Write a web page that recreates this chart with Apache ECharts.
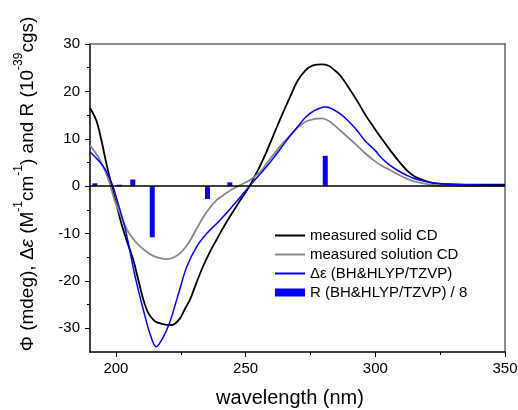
<!DOCTYPE html>
<html><head><meta charset="utf-8">
<script src="https://cdn.jsdelivr.net/npm/echarts@6/dist/echarts.min.js"></script>
<style>html,body{margin:0;padding:0;background:#fff}#c{width:518px;height:410px}</style>
</head><body><div id="c"></div>
<script>
// measured solid CD
const solidWl = [190,192.4,194.4,196.3,198.4,200.1,202.1,204.1,206.7,208.5,210.6,212.5,215,218,221.5,224.7,226.5,228.6,231.1,233.7,236.3,238.5,240.5,242.7,245,247.2,249.5,251.5,253.6,255.5,258,261.3,264,267.1,270,273,276,279.4,282,284,286.4,289.5,292.9,296,299.3,302.5,305.7,309,312.1,315,318.4,322,326,335,350];
const solidCD = [16.5,13.9,9.7,4.8,0,-3.6,-7.9,-11.4,-15.6,-19.5,-24,-26.8,-28.5,-29.1,-29.3,-27.9,-26,-23.9,-20.3,-16.8,-13.8,-11.6,-9.6,-7.5,-5.5,-3.6,-1.7,0,2.2,4.2,7.2,11.5,15,18.8,22.2,24.4,25.5,25.7,25.4,24.6,23.4,21,18.1,15.2,12.5,10,7.6,5.3,3.4,2.1,1.3,0.7,0.4,0.3,0.3];
// measured solution CD
const solutionWl = [190,193.1,195.7,197.6,199.5,202.1,204,205.4,208,210.6,214,217,219.6,222,224.7,228,231.1,233.7,236.3,238.9,241.4,245.3,247.8,251.7,255.6,258.1,263.3,268.4,270.3,274,279.4,283,286.4,292.9,296,299.3,302.5,305.7,309,312.1,315,318.4,322,328,335,350];
const solutionCD = [8.6,6.2,3.4,0.6,-3,-6.5,-8.9,-10.2,-12,-13.3,-14.6,-15.2,-15.4,-15.1,-14.2,-12,-9,-6.5,-4.5,-2.9,-1.9,-0.5,0.2,1.3,3,4.8,8.4,11.4,12.5,13.8,14.3,13.4,11.8,8.6,7,5.5,4.3,3.4,2.4,1.6,1.0,0.6,0.3,0.1,0,0];
// calculated delta epsilon
const calcWl = [190,193.1,195.7,197.6,198.9,200.8,203.4,205.5,207.4,210.6,213.1,215.5,218.3,220.9,223.4,224.7,227.3,231.1,235,240.1,245.3,251.5,255,258.5,263.3,267.1,270.3,273,276.1,280.6,283,286.4,289.5,292.9,296,299.8,302.5,305.7,309,312.1,315,318.5,322,326,335,350];
const calcDe = [7.2,5.5,3.7,1.6,-0.1,-3.6,-8.6,-14,-19.1,-26.2,-31.1,-33.9,-31.8,-28.5,-24,-21.6,-17,-12.8,-10,-7.2,-4,0,2.2,4.4,7.8,10.6,12.7,14.5,15.8,16.7,16.4,15.3,13.8,11.8,9.6,7.6,5.9,4.4,3.2,2.3,1.6,1.1,0.7,0.5,0.3,0.2];
// rotational strengths / 8
const barWl = [191.9,201.4,206.5,214,235.3,243.9,280.7];
const barR = [0.6,0.3,1.4,-10.8,-2.7,0.8,6.4];

const xMajor = [200,250,300,350];
const xMinor = [225,275,325];
const yMajor = [-30,-20,-10,0,10,20,30];
const yMinor = [-25,-15,-5,5,15,25];

const pairs = (a,b)=>a.map((v,i)=>[v,b[i]]);
const FONT = 'Liberation Sans, Arial, sans-serif';

const chart = echarts.init(document.getElementById('c'), null, {renderer:'canvas'});
const lineSeries = (name, wl, v, color, w) => ({
  name, type:'line', xAxisIndex:0, yAxisIndex:0, smooth:0.35,
  symbol:'none', lineStyle:{color, width:w}, itemStyle:{color}, data:pairs(wl, v)
});
chart.setOption({
  animation:false,
  backgroundColor:'#fff',
  textStyle:{fontFamily:FONT},
  grid:{left:90,right:13,top:44,bottom:58,outerBoundsMode:'none',containLabel:false},
  legend:[
    {orient:'vertical', left:275, top:228, padding:0, itemWidth:30, itemHeight:2, itemGap:4, icon:'rect',
     textStyle:{fontSize:15,color:'#000',fontFamily:FONT},
     data:['measured solid CD','measured solution CD','Δε (BH&HLYP/TZVP)']},
    {orient:'vertical', left:275, top:285, padding:0, itemWidth:30, itemHeight:8, icon:'rect',
     textStyle:{fontSize:15,color:'#000',fontFamily:FONT},
     data:['R (BH&HLYP/TZVP) / 8']}
  ],
  xAxis:[
    {type:'value',min:190,max:350,position:'bottom',
     name:'wavelength (nm)',nameLocation:'middle',nameGap:36,
     nameTextStyle:{fontSize:20,color:'#000',fontFamily:FONT,padding:[0,15,0,0]},
     axisLine:{show:true,onZero:false,lineStyle:{color:'#000',width:1.5}},
     axisTick:{show:true,inside:false,length:5,customValues:xMajor,lineStyle:{color:'#000',width:1}},
     axisLabel:{customValues:xMajor,fontSize:15,color:'#000',margin:9,fontFamily:FONT},
     splitLine:{show:false}},
    {type:'value',min:190,max:350,position:'bottom',offset:0,
     axisLine:{show:false,onZero:false},
     axisTick:{show:true,length:3,customValues:xMinor,lineStyle:{color:'#000',width:1}},
     axisLabel:{show:false},splitLine:{show:false}},
    {type:'value',min:190,max:350,position:'top',offset:0,
     axisLine:{show:true,onZero:false,lineStyle:{color:'#666',width:1.5}},
     axisTick:{show:false},axisLabel:{show:false},splitLine:{show:false}}
  ],
  yAxis:[
    {type:'value',min:-35,max:30,position:'left',
     name:'{n|Φ (mdeg), Δ}{i|ε}{n| (M}{s|-1}{n|cm}{s|-1}{n|) and R (10}{s|-39}{n|cgs)}',
     nameLocation:'middle',nameGap:53,nameRotate:90,
     nameTextStyle:{padding:[0,0,0,28],rich:{
       n:{fontSize:19,color:'#000',fontFamily:FONT,lineHeight:24,verticalAlign:'bottom'},
       i:{fontSize:19,color:'#000',fontFamily:FONT,fontStyle:'italic',lineHeight:24,verticalAlign:'bottom'},
       s:{fontSize:12,color:'#000',fontFamily:FONT,lineHeight:24,verticalAlign:'top'}
     }},
     axisLine:{show:true,onZero:false,lineStyle:{color:'#000',width:1.5}},
     axisTick:{show:true,inside:false,length:5,customValues:yMajor,lineStyle:{color:'#000',width:1}},
     axisLabel:{customValues:yMajor,fontSize:15,color:'#000',margin:10,fontFamily:FONT},
     splitLine:{show:false}},
    {type:'value',min:-35,max:30,position:'left',offset:0,
     axisLine:{show:false,onZero:false},
     axisTick:{show:true,length:3,customValues:yMinor,lineStyle:{color:'#000',width:1}},
     axisLabel:{show:false},splitLine:{show:false}},
    {type:'value',min:-35,max:30,position:'right',offset:0,
     axisLine:{show:true,onZero:false,lineStyle:{color:'#666',width:1.5}},
     axisTick:{show:false},axisLabel:{show:false},splitLine:{show:false}}
  ],
  series:[
    {name:'R (BH&HLYP/TZVP) / 8',type:'bar',xAxisIndex:0,yAxisIndex:0,barWidth:5,
     itemStyle:{color:'#0000ff'},data:pairs(barWl,barR),
     markLine:{silent:true,symbol:'none',label:{show:false},
       lineStyle:{color:'#000',width:1.5,type:'solid'},data:[{yAxis:0}]}},
    lineSeries('measured solid CD', solidWl, solidCD, '#000', 1.8),
    lineSeries('measured solution CD', solutionWl, solutionCD, '#888', 1.8),
    lineSeries('Δε (BH&HLYP/TZVP)', calcWl, calcDe, '#0000ff', 1.5)
  ]
});
</script></body></html>
